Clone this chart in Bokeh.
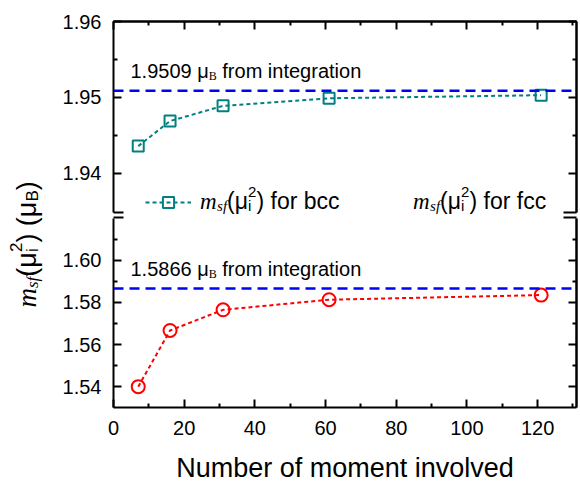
from bokeh.plotting import figure
from bokeh.models import (Range1d, LinearAxis, FixedTicker, Span, Label, Legend, LegendItem,
                          NumeralTickFormatter)
from bokeh.layouts import row, column
from bokeh.embed import file_html
from bokeh.resources import INLINE

# ---------------- data ----------------
moments = [7, 16, 31, 61, 121]
bcc_values = [1.9436, 1.9469, 1.9489, 1.9499, 1.9503]
fcc_values = [1.5400, 1.5667, 1.5765, 1.5813, 1.5835]
bcc_integration = 1.9509
fcc_integration = 1.5866
x_ticks = [0, 20, 40, 60, 80, 100, 120]
x_minor = [10, 30, 50, 70, 90, 110, 130]
top_ticks = [1.94, 1.95, 1.96]
top_minor = [1.945, 1.955]
bottom_ticks = [1.54, 1.56, 1.58, 1.60]
bottom_minor = [1.55, 1.57, 1.59, 1.61]
x_title = "Number of moment involved"

TEAL = "#008080"
RED = "#ff0000"
BLUE = "#0000ff"
SANS = "Liberation Sans"
SERIF = "Liberation Serif"

SANS_W = {' ': 278, '.': 278, '(': 333, ')': 333, 'μ': 576, 'f': 278, 'r': 333, 'o': 556,
          'm': 833, 'i': 222, 'n': 556, 't': 278, 'e': 556, 'g': 556, 'a': 556, 'b': 556,
          'c': 500, 'B': 667}
SERIF_W = {' ': 250, 'm': 722, 's': 389, 'f': 278, 'B': 667}


def text_width(text, font, size):
    table = SANS_W if font == SANS else SERIF_W
    return sum(table.get(ch, 556) for ch in text) * size / 1000.0


def run(fig, pieces, x0, y0, angle=0.0, pos=0.0):
    for piece in pieces:
        text, font, style, size, dy = piece[:5]
        adv = piece[5] if len(piece) > 5 else None
        full = text
        lead = len(text) - len(text.lstrip(" "))
        off = text_width(" " * lead, font, size)
        text = text.strip(" ")
        if angle == 0.0:
            x, y = x0 + pos + off, y0 + dy
        else:
            x, y = x0 - dy, y0 + pos + off
        fig.add_layout(Label(x=x, y=y, x_units="screen", y_units="screen", text=text,
                             text_font=font, text_font_style=style,
                             text_font_size=f"{size}px", text_color="black",
                             angle=angle, text_align="left", text_baseline="alphabetic"))
        pos += text_width(full, font, size) if adv is None else adv


def style_axis(ax):
    ax.axis_line_width = 2
    ax.axis_line_color = "black"
    ax.major_tick_in = 8
    ax.major_tick_out = 0
    ax.minor_tick_in = 4
    ax.minor_tick_out = 0
    ax.major_tick_line_width = 2
    ax.minor_tick_line_width = 2
    ax.major_tick_line_color = "black"
    ax.minor_tick_line_color = "black"
    ax.major_label_text_font = SANS
    ax.major_label_text_font_size = "20px"
    ax.major_label_text_color = "black"


def mirror(fig, side, majors, minors, bounds="auto"):
    # label-free mirror axes: ticks drawn as "minor" ticks so no tick labels exist
    for ticks, length in ((majors, 8), (minors, 4)):
        ax = LinearAxis(ticker=FixedTicker(ticks=[], minor_ticks=ticks), bounds=bounds)
        style_axis(ax)
        ax.minor_tick_in = length
        ax.major_label_standoff = 0
        fig.add_layout(ax, side)


def break_marks(fig, loc, at):
    # axis-break strokes: line-less axes whose inward ticks cross the frame edge
    ax = LinearAxis(ticker=FixedTicker(ticks=[], minor_ticks=at), fixed_location=loc)
    style_axis(ax)
    ax.axis_line_color = None
    ax.minor_tick_in = 20
    ax.minor_tick_out = 0
    ax.major_label_standoff = 0
    fig.add_layout(ax, "left")


MAIN_W = 530
LEFT_B = 63
RIGHT_B = 4
FW = MAIN_W - LEFT_B - RIGHT_B
X_END = 131
PX = FW / X_END                     # pixels per x unit


def make_fig(height, yr, btop, bbottom):
    p = figure(width=MAIN_W, height=height, x_range=Range1d(0, X_END), y_range=Range1d(*yr),
               output_backend="svg", toolbar_location=None, x_axis_type=None, y_axis_type=None,
               min_border_left=LEFT_B, min_border_right=RIGHT_B,
               min_border_top=btop, min_border_bottom=bbottom)
    p.outline_line_color = None
    p.background_fill_color = "white"
    p.border_fill_color = "white"
    return p


TOP_RANGE = (1.93447, 1.96)
BOT_RANGE = (1.5301, 1.6213)
TOP_BOUNDS = (1.93487, 1.96)      # leaves the axis-break gap
BOT_BOUNDS = (1.5301, 1.6199)

# ---------------- top panel (bcc) ----------------
top = make_fig(215, TOP_RANGE, 21, 0)
yl = LinearAxis(ticker=FixedTicker(ticks=top_ticks, minor_ticks=top_minor),
                formatter=NumeralTickFormatter(format="0.00"), bounds=TOP_BOUNDS)
style_axis(yl)
yl.major_label_standoff = 12
top.add_layout(yl, "left")
mirror(top, "right", top_ticks, top_minor, TOP_BOUNDS)
mirror(top, "above", x_ticks, x_minor)
break_marks(top, -10 / PX, [1.93487])
break_marks(top, X_END - 13 / PX, [1.93487])

top.add_layout(Span(location=bcc_integration, dimension="width", line_color=BLUE,
                    line_width=2.5, line_dash="10 6"))
bcc_line = top.line(moments, bcc_values, line_color=TEAL, line_width=2, line_dash="4 3")
bcc_pts = top.scatter(moments, bcc_values, marker="square", size=11, fill_color=None,
                      line_color=TEAL, line_width=2)
# style-only renderers (no data) so the fcc legend sample can sit in the top panel
fcc_key_line = top.line(x=[], y=[], line_color=RED, line_width=2, line_dash="4 3")
fcc_key_pts = top.scatter(x=[], y=[], marker="circle", size=13, fill_color=None,
                          line_color=RED, line_width=2)

# ---------------- bottom panel (fcc) ----------------
bot = make_fig(270, BOT_RANGE, 0, 77)
yl2 = LinearAxis(ticker=FixedTicker(ticks=bottom_ticks, minor_ticks=bottom_minor),
                 formatter=NumeralTickFormatter(format="0.00"), bounds=BOT_BOUNDS)
style_axis(yl2)
yl2.major_label_standoff = 12
bot.add_layout(yl2, "left")
mirror(bot, "right", bottom_ticks, bottom_minor, BOT_BOUNDS)
break_marks(bot, -10 / PX, [1.62036])
break_marks(bot, X_END - 13 / PX, [1.62036])
xa = LinearAxis(ticker=FixedTicker(ticks=x_ticks, minor_ticks=x_minor), axis_label=x_title)
style_axis(xa)
xa.major_label_standoff = 13
xa.axis_label_text_font = SANS
xa.axis_label_text_font_size = "27px"
xa.axis_label_text_font_style = "normal"
xa.axis_label_text_color = "black"
xa.axis_label_standoff = 15
bot.add_layout(xa, "below")

bot.add_layout(Span(location=fcc_integration, dimension="width", line_color=BLUE,
                    line_width=2.5, line_dash="10 6"))
fcc_line = bot.line(moments, fcc_values, line_color=RED, line_width=2, line_dash="4 3")
fcc_pts = bot.scatter(moments, fcc_values, marker="circle", size=13, fill_color=None,
                      line_color=RED, line_width=2)

# ---------------- legends ----------------
LEG_SIZE = 23
SUB_SIZE = 15


def make_legend(renderers, loc, gh):
    return Legend(items=[LegendItem(label="m", renderers=renderers)], location=loc,
                  glyph_width=46, glyph_height=gh, padding=0, margin=0, spacing=0,
                  label_standoff=9, label_text_font=SERIF, label_text_font_style="italic",
                  label_text_font_size=f"{LEG_SIZE}px", label_text_color="black",
                  background_fill_alpha=0, border_line_alpha=0)


top.add_layout(make_legend([bcc_line, bcc_pts], (32, -1), 28))
top.add_layout(make_legend([fcc_key_line, fcc_key_pts], (245, -3), 32))


def legend_tail(tail):
    return [("sf", SERIF, "italic", SUB_SIZE, -5),
            ("(", SANS, "normal", LEG_SIZE, 0), ("μ", SANS, "normal", LEG_SIZE, 0),
            ("2", SANS, "normal", SUB_SIZE, 9, 0), ("i", SANS, "normal", SUB_SIZE, -5, 8.5),
            (")", SANS, "normal", LEG_SIZE, 0), (tail, SANS, "normal", LEG_SIZE, 0)]


m_w = text_width("m", SERIF, LEG_SIZE)
run(top, legend_tail(" for bcc"), 32 + 46 + 9, 15, pos=m_w)
run(top, legend_tail(" for fcc"), 245 + 46 + 9, 15, pos=m_w)

# ---------------- integration annotations ----------------
def integ_pieces(val):
    return [(f"{val:.4f} ", SANS, "normal", 20, 0), ("μ", SANS, "normal", 20, 0),
            ("B", SERIF, "normal", 12, -5), (" from integration", SANS, "normal", 20, 0)]


run(top, integ_pieces(bcc_integration), 17, 145)
run(bot, integ_pieces(fcc_integration), 17, 139)

# ---------------- y-axis title figure ----------------
lab = figure(width=580 - MAIN_W, height=485, x_range=Range1d(0, 1), y_range=Range1d(0, 1),
             output_backend="svg", toolbar_location=None, x_axis_type=None, y_axis_type=None,
             min_border=0)
lab.outline_line_color = None
ylab = [("m", SERIF, "italic", 27, 0), ("sf", SERIF, "italic", 17, -6),
        ("(", SANS, "normal", 27, 0), ("μ", SANS, "normal", 27, 0),
        ("2", SANS, "normal", 17, 11, 0), ("i", SANS, "normal", 17, -6, 9.5),
        (")", SANS, "normal", 27, 0), (" (", SANS, "normal", 27, 0),
        ("μ", SANS, "normal", 27, 0), ("B", SANS, "normal", 17, -6),
        (")", SANS, "normal", 27, 0)]
run(lab, ylab, 26, 178, angle=1.5707963267948966)

p = row(lab, column(top, bot))
open("out.html", "w").write(file_html(p, INLINE))
